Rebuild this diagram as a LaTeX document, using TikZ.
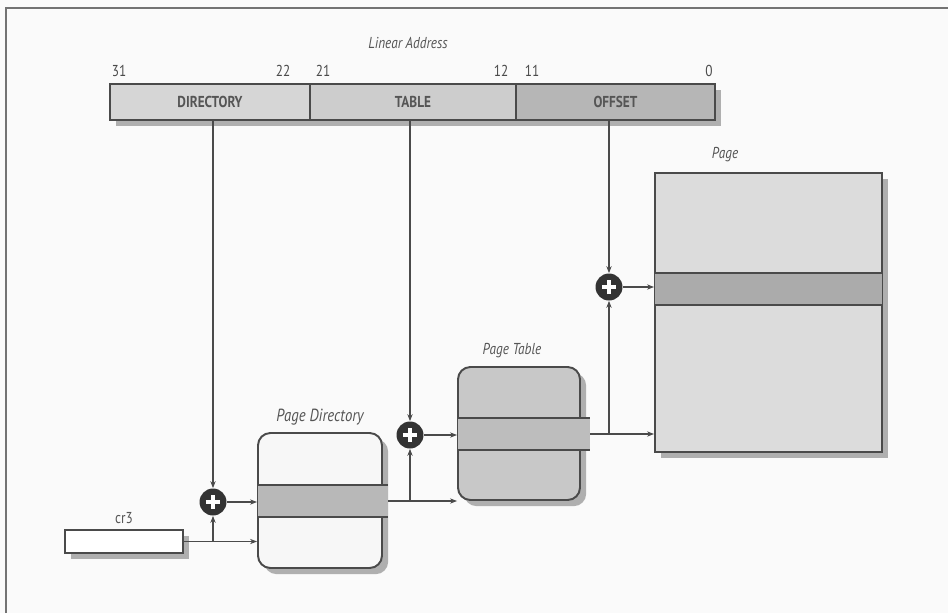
\documentclass[tikz,border=0pt]{standalone}
\usepackage{fontspec}
\setmainfont{PT Sans}[FakeStretch=0.84]
\usetikzlibrary{positioning,arrows.meta,shadows,calc}
\definecolor{pgline}{HTML}{4A4A4A}
\definecolor{pgtext}{HTML}{555555}
\definecolor{dirfill}{HTML}{D6D6D6}
\definecolor{tblfill}{HTML}{CDCDCD}
\definecolor{offfill}{HTML}{B6B6B6}
\definecolor{pagefill}{HTML}{DCDCDC}
\definecolor{bandfill}{HTML}{ABABAB}
\definecolor{ptfill}{HTML}{C8C8C8}
\definecolor{plusgray}{HTML}{333333}

\begin{document}
\begin{tikzpicture}[
  x=0.02cm, y=-0.02cm,
  font=\small,
  shd/.style={drop shadow={shadow xshift=3.5pt, shadow yshift=-3.5pt, fill=black!55, opacity=0.55}},
  field/.style={draw=pgline, line width=1pt, minimum height=0.72cm, inner sep=0pt,
                font=\bfseries\small, text=pgtext},
  bit/.style={font=\small, text=pgline, inner sep=1pt},
  lbl/.style={font=\itshape\small, text=pgtext, inner sep=1pt},
  tblbox/.style={draw=pgline, line width=1.1pt, rounded corners=7pt, inner sep=0pt, shd},
  band/.style={inner sep=0pt, minimum height=0.64cm},
  adder/.style={circle, fill=plusgray, minimum size=0.54cm, inner sep=0pt,
    path picture={\draw[white, line width=2.2pt]
      ([xshift=-4pt]path picture bounding box.center) -- ([xshift=4pt]path picture bounding box.center)
      ([yshift=-4pt]path picture bounding box.center) -- ([yshift=4pt]path picture bounding box.center);}},
  wire/.style={draw=pgline, line width=0.6pt, -{Stealth[length=4pt,width=3pt]}},
]
\useasboundingbox[fill=black!2] (0,0) rectangle (948,613);
\draw[black!55, line width=1.2pt] (6,613) -- (6,8) -- (948,8);

% ================= linear address =================
\node[lbl] (la) at (408,43) {Linear Address};
\node[draw=none, fill=white, minimum width=12.1cm, minimum height=0.72cm, shd] (addr) at (412.5,102) {};
\node[field, fill=dirfill, minimum width=4cm]    (dir) at (210,102)   {DIRECTORY};
\node[field, fill=tblfill, minimum width=4.12cm] (tbl) at (413,102)   {TABLE};
\node[field, fill=offfill, minimum width=3.98cm] (off) at (615.5,102) {OFFSET};
\node[bit] (b31) at (119,71) {31};
\node[bit] (b22) at (283,71) {22};
\node[bit] (b21) at (323,71) {21};
\node[bit] (b12) at (501,71) {12};
\node[bit] (b11) at (532,71) {11};
\node[bit] (b0)  at (709,71) {0};

% ================= cr3 =================
\node[draw=pgline, line width=1.2pt, fill=white, minimum width=2.36cm, minimum height=0.46cm,
      inner sep=0pt, shd] (cr3) at (124,541.5) {};
\node[lbl, font=\small] (cr3lbl) at (124,518) {cr3};

% ================= page directory =================
\node[tblbox, fill=black!3, minimum width=2.48cm, minimum height=2.7cm] (pd) at (320,500.5) {};
\node[band, fill=black!28, minimum width=2.6cm] (pdrow) at (323,501) {};
\draw[pgline, line width=1.1pt] (pdrow.north west) -- (pdrow.north east)
                                (pdrow.south west) -- (pdrow.south east);
\node[lbl, font=\itshape\normalsize] (pdlbl) at (320,417) {Page Directory};

% ================= page table =================
\node[tblbox, fill=ptfill, minimum width=2.44cm, minimum height=2.66cm] (pt) at (519,433.5) {};
\node[band, fill=black!26, minimum width=2.64cm] (ptrow) at (524,434) {};
\draw[pgline, line width=1.1pt] (ptrow.north west) -- (ptrow.north east)
                                (ptrow.south west) -- (ptrow.south east);
\node[lbl] (ptlbl) at (512,351) {Page Table};

% ================= page =================
\node[draw=pgline, line width=1.1pt, fill=pagefill, minimum width=4.54cm, minimum height=5.58cm,
      inner sep=0pt, shd] (pg) at (768.5,312.5) {};
\node[band, fill=bandfill, minimum width=4.54cm] (pgrow) at (768.5,289) {};
\draw[pgline, line width=1.1pt] (pgrow.north west) -- (pgrow.north east)
                                (pgrow.south west) -- (pgrow.south east);
\node[lbl] (pglbl) at (725,155) {Page};

% ================= adders =================
\node[adder] (p1) at (213,502) {};
\node[adder] (p2) at (410,435) {};
\node[adder] (p3) at (609,287) {};

% connectors
\draw[wire] (cr3.east) -- (cr3.east -| pd.west);
\draw[wire] (cr3.east -| p1) -- (p1.south);
\draw[wire] (p1 |- dir.south) -- (p1.north);
\draw[wire] (p1.east) -- (p1 -| pd.west);

\draw[wire] (pdrow.east) -- (pdrow.east -| pt.west);
\draw[wire] (pdrow.east -| p2) -- (p2.south);
\draw[wire] (p2 |- tbl.south) -- (p2.north);
\draw[wire] (p2.east) -- (p2 -| pt.west);

\draw[wire] (ptrow.east) -- (ptrow.east -| pg.west);
\draw[wire] (ptrow.east -| p3) -- (p3.south);
\draw[wire] (p3 |- off.south) -- (p3.north);
\draw[wire] (p3.east) -- (p3 -| pg.west);
\end{tikzpicture}
\end{document}
